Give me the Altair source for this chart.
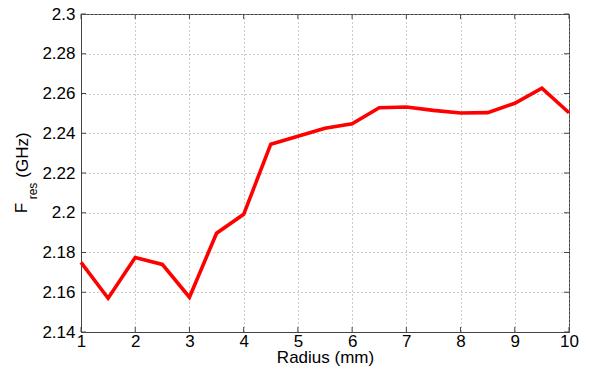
import altair as alt
import pandas as pd

# Resonant frequency versus patch radius
radius_mm = [1, 1.5, 2, 2.5, 3, 3.5, 4, 4.5, 5, 5.5, 6, 6.5, 7, 7.5, 8, 8.5, 9, 9.5, 10]
f_res_ghz = [2.175, 2.157, 2.1775, 2.174, 2.1575, 2.1897, 2.1992, 2.2345, 2.2385, 2.2425,
             2.2448, 2.2528, 2.2532, 2.2515, 2.2502, 2.2504, 2.2551, 2.2627, 2.2503]

x_ticks = [1, 2, 3, 4, 5, 6, 7, 8, 9, 10]
y_ticks = [2.14, 2.16, 2.18, 2.2, 2.22, 2.24, 2.26, 2.28, 2.3]

df = pd.DataFrame({"r": radius_mm, "f": f_res_ghz})
xt = pd.DataFrame({"r": x_ticks})
yt = pd.DataFrame({"f": y_ticks})

FONT = "Liberation Sans"
W, H = 488, 318
AXIS_COLOR = "#444"

x_scale = alt.Scale(domain=[1, 10], nice=False, zero=False)
y_scale = alt.Scale(domain=[2.14, 2.3], nice=False, zero=False)

x_axis = alt.Axis(
    values=x_ticks, format="d", title="Radius (mm)",
    titleFont=FONT, titleFontSize=17, titleFontWeight="normal", titleColor="#000",
    titlePadding=0, labelFont=FONT, labelFontSize=17, labelColor="#000",
    labelPadding=1, labelFlush=False, labelOverlap=False, tickSize=0,
    domainColor=AXIS_COLOR,
    grid=True, gridColor="#999", gridDash=[1, 3], gridWidth=1,
)
y_axis = alt.Axis(
    values=y_ticks, title=None, labelExpr="format(datum.value, '~g')",
    labelFont=FONT, labelFontSize=17, labelColor="#000", labelPadding=6,
    labelFlush=False, labelOverlap=False, tickSize=0, domainColor=AXIS_COLOR,
    grid=True, gridColor="#999", gridDash=[1, 3], gridWidth=1,
)
x_enc = alt.X("r:Q", scale=x_scale, axis=x_axis)
y_enc = alt.Y("f:Q", scale=y_scale, axis=y_axis)

line = alt.Chart(df).mark_line(color="#ff0000", strokeWidth=3.6, strokeJoin="miter").encode(
    x=x_enc, y=y_enc
)

# short inward ticks on all four sides of the box
tick_len = 5
x_ticks_bottom = alt.Chart(xt).mark_rule(color=AXIS_COLOR, strokeWidth=1).encode(
    x=x_enc, y=alt.value(H), y2=alt.value(H - tick_len))
x_ticks_top = alt.Chart(xt).mark_rule(color=AXIS_COLOR, strokeWidth=1).encode(
    x=x_enc, y=alt.value(0), y2=alt.value(tick_len))
y_ticks_left = alt.Chart(yt).mark_rule(color=AXIS_COLOR, strokeWidth=1).encode(
    y=y_enc, x=alt.value(0), x2=alt.value(tick_len))
y_ticks_right = alt.Chart(yt).mark_rule(color=AXIS_COLOR, strokeWidth=1).encode(
    y=y_enc, x=alt.value(W), x2=alt.value(W - tick_len))

# y-axis title with subscript, built from rotated text pieces
def rot_text(txt, x, y, size):
    return alt.Chart(df.head(1)).mark_text(
        text=txt, angle=270, font=FONT, fontSize=size, color="#000",
        align="center", baseline="middle",
    ).encode(x=alt.value(x), y=alt.value(y))

y_title = rot_text("F", -59, 194, 17) + rot_text("res", -48, 177, 12) + rot_text("(GHz)", -58, 141, 17)

chart = (
    alt.layer(line, x_ticks_bottom, x_ticks_top, y_ticks_left, y_ticks_right, y_title)
    .properties(
        width=W, height=H,
        autosize=alt.AutoSizeParams(type="none"),
        padding={"left": 81, "top": 14, "right": 20, "bottom": 38},
        background="white",
    )
    .configure_view(stroke=AXIS_COLOR, strokeWidth=1)
)

chart.save("out.html", embed_options={"renderer": "svg", "actions": False})
